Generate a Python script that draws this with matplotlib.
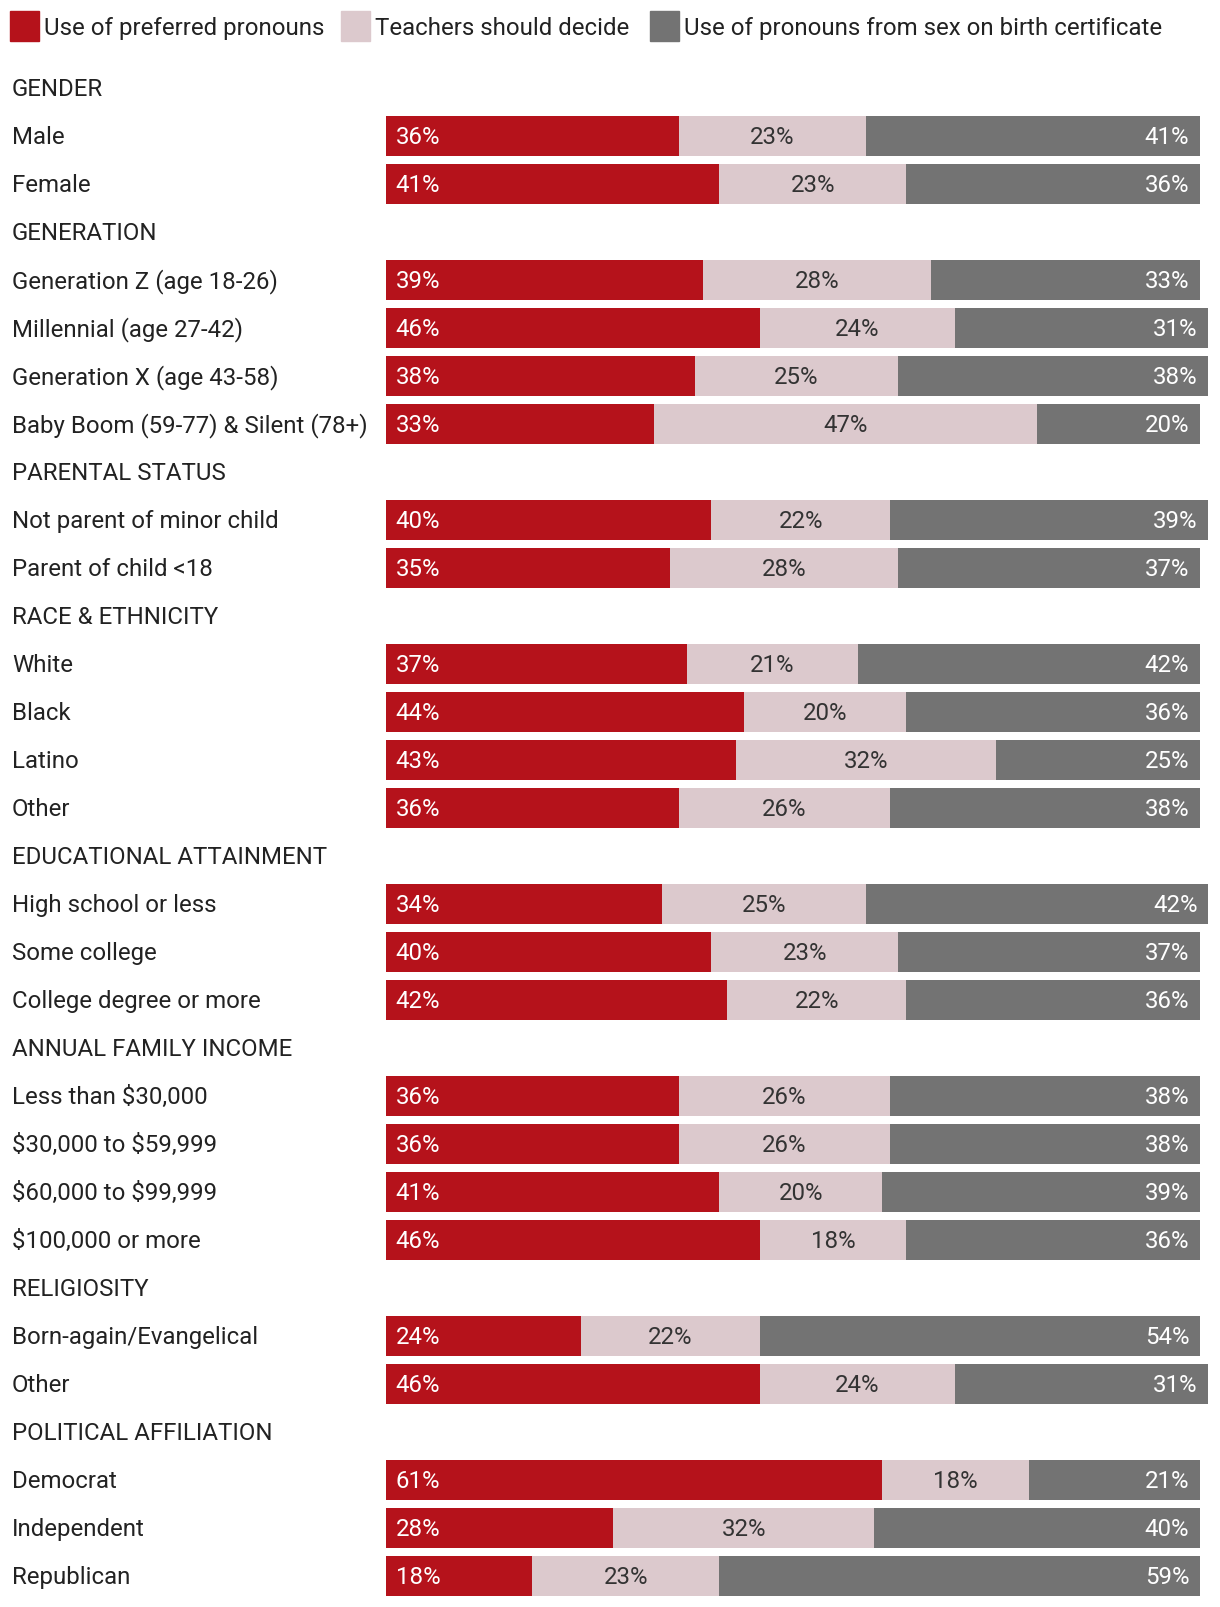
import matplotlib.pyplot as plt
from matplotlib.patches import Rectangle
from matplotlib.transforms import blended_transform_factory

plt.rcParams['font.family'] = ['Roboto', 'DejaVu Sans']
plt.rcParams['text.parse_math'] = False

# groups and rows, in display order
groups = ['GENDER', 'GENERATION', 'PARENTAL STATUS', 'RACE & ETHNICITY',
          'EDUCATIONAL ATTAINMENT', 'ANNUAL FAMILY INCOME', 'RELIGIOSITY',
          'POLITICAL AFFILIATION']
group_rows = [
    ['Male', 'Female'],
    ['Generation Z (age 18-26)', 'Millennial (age 27-42)', 'Generation X (age 43-58)',
     'Baby Boom (59-77) & Silent (78+)'],
    ['Not parent of minor child', 'Parent of child <18'],
    ['White', 'Black', 'Latino', 'Other'],
    ['High school or less', 'Some college', 'College degree or more'],
    ['Less than $30,000', '$30,000 to $59,999', '$60,000 to $99,999', '$100,000 or more'],
    ['Born-again/Evangelical', 'Other'],
    ['Democrat', 'Independent', 'Republican'],
]
preferred = [36, 41, 39, 46, 38, 33, 40, 35, 37, 44, 43, 36, 34, 40, 42,
             36, 36, 41, 46, 24, 46, 61, 28, 18]
teachers = [23, 23, 28, 24, 25, 47, 22, 28, 21, 20, 32, 26, 25, 23, 22,
            26, 26, 20, 18, 22, 24, 18, 32, 23]
birth_sex = [41, 36, 33, 31, 38, 20, 39, 37, 42, 36, 25, 38, 42, 37, 36,
             38, 38, 39, 36, 54, 31, 21, 40, 59]

series_names = ['Use of preferred pronouns', 'Teachers should decide',
                'Use of pronouns from sex on birth certificate']
colors = ['#B5121B', '#DCC9CD', '#737373']
label_colors = ['white', '#333333', 'white']

W, H = 1220, 1608
fig = plt.figure(figsize=(W / 100, H / 100), dpi=100)

n_rows = len(groups) + sum(len(g) for g in group_rows)
pitch = 48.0
top = 88.6 - pitch / 2
x0 = 385.5
px_per_pct = 8.14
xmax = 103
ax = fig.add_axes([x0 / W, 1 - (top + pitch * n_rows) / H,
                   px_per_pct * xmax / W, pitch * n_rows / H])
ax.set_xlim(0, xmax)
ax.set_ylim(n_rows - 0.5, -0.5)
ax.axis('off')

lab_tr = blended_transform_factory(fig.transFigure, ax.transData)
fs = 17.3
text_col = '#222222'
bh = 40 / pitch
dy = 0.025  # nudge text down a touch

r = 0
k = 0
for g, rows in zip(groups, group_rows):
    ax.text(12 / W, r + dy, g, transform=lab_tr, ha='left', va='center',
            fontsize=fs, color=text_col)
    r += 1
    for name in rows:
        ax.text(12 / W, r + dy, name, transform=lab_tr, ha='left', va='center',
                fontsize=fs, color=text_col)
        vals = [preferred[k], teachers[k], birth_sex[k]]
        left = 0
        for j, v in enumerate(vals):
            ax.barh(r, v, left=left, height=bh, color=colors[j], linewidth=0)
            if j == 0:
                ax.text(left + 1.25, r + dy, f'{v}%', ha='left', va='center',
                        fontsize=fs, color=label_colors[j])
            elif j == 1:
                ax.text(left + v / 2, r + dy, f'{v}%', ha='center', va='center',
                        fontsize=fs, color=label_colors[j])
            else:
                ax.text(left + v - 1.25, r + dy, f'{v}%', ha='right', va='center',
                        fontsize=fs, color=label_colors[j])
            left += v
        r += 1
        k += 1

# legend
leg_x = [10, 341, 650]
for j, name in enumerate(series_names):
    fig.patches.append(Rectangle((leg_x[j] / W, 1 - 42 / H), 29 / W, 30 / H,
                                 transform=fig.transFigure, color=colors[j]))
    fig.text((leg_x[j] + 34) / W, 1 - 28.5 / H, name, ha='left', va='center',
             fontsize=fs, color=text_col)

fig.savefig('out.png', dpi=100)
